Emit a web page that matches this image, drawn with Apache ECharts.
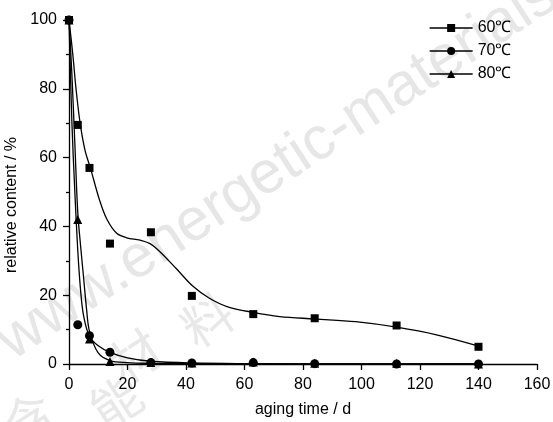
<!DOCTYPE html>
<html>
<head>
<meta charset="utf-8">
<script src="https://cdn.jsdelivr.net/npm/echarts@6/dist/echarts.min.js"></script>
<style>
  html, body { margin: 0; padding: 0; background: #fff; }
  #chart { width: 553px; height: 422px; }
</style>
</head>
<body>
<div id="chart"></div>
<script>
// Measured points (aging time in days)
const ptDays = [0, 3, 7, 14, 28, 42, 63, 84, 112, 140];
const pts60 = [100, 69.5, 57, 35, 38.3, 19.8, 14.5, 13.3, 11.2, 5.0];
const pts70 = [100, 11.4, 8.2, 3.4, 0.4, 0.3, 0.4, 0.1, 0, 0];
const pts80 = [100, 42, 7.3, 0.7, 0.4, 0.3, 0.6, 0.2, 0.2, 0];

// Fitted curves
const fitDays60 = [0, 1.3, 2.4, 3.8, 5.5, 7.3, 10.5, 13, 16.3, 19.7, 24.3, 27.7, 31, 36.8, 42.5, 48, 54, 63, 72, 84, 98, 112, 126, 140];
const fit60 = [100, 90, 80, 70, 62, 57, 47.5, 42, 38, 36.7, 36, 35, 32.7, 27.6, 22.5, 19.1, 16.7, 15, 13.8, 13.1, 12.3, 10.7, 8.4, 5.2];
const fitDays70 = [0, 1, 2, 3, 4, 5, 7, 10, 14, 20, 28, 42, 63, 84, 112, 140];
const fit70 = [100, 70, 50, 33, 21, 14, 8, 5.3, 3.4, 1.8, 0.8, 0.3, 0.1, 0, 0, 0];
const fitDays80 = [0, 1, 2, 3, 4, 5, 6, 7, 10, 14, 20, 28, 42, 63, 84, 112, 140];
const fit80 = [100, 84, 64, 44, 34, 25, 16, 9.5, 3.2, 1.0, 0.4, 0.2, 0.1, 0.1, 0, 0, 0];

const names = ['60℃', '70℃', '80℃'];
const symbols = ['rect', 'circle', 'triangle'];
const symbolSizes = [8, 9, 9];

const font = "'Liberation Sans', Arial, sans-serif";

function pairs(xs, ys) {
  return xs.map((x, i) => [x, ys[i]]);
}

const chart = echarts.init(document.getElementById('chart'));

const fits = [pairs(fitDays60, fit60), pairs(fitDays70, fit70), pairs(fitDays80, fit80)];
const points = [pairs(ptDays, pts60), pairs(ptDays, pts70), pairs(ptDays, pts80)];

const series = [];
names.forEach((name, i) => {
  // fitted line, carries the legend entry
  series.push({
    name: name,
    type: 'line',
    data: fits[i],
    smooth: 0.35,
    symbol: symbols[i],
    showSymbol: false,
    lineStyle: { color: '#000', width: 1.3 },
    itemStyle: { color: '#000' },
    z: 2
  });
  // measured points
  series.push({
    name: name + ' data',
    type: 'scatter',
    data: points[i],
    symbol: symbols[i],
    symbolSize: symbolSizes[i],
    itemStyle: { color: '#000', opacity: 1 },
    z: 3
  });
});

// watermark
const wmChars = [['含', 28, 418], ['能', 116, 402], ['材', 135, 356], ['料', 207, 320]];

chart.setOption({
  animation: false,
  textStyle: { fontFamily: font },
  graphic: [
    {
      type: 'text',
      x: 20, y: 372,
      rotation: 0.576,
      z: -10,
      style: { text: 'www.energetic-materials', fill: '#e6e6e6', font: "60px 'Liberation Sans', sans-serif", textVerticalAlign: 'bottom' }
    }
  ].concat(wmChars.map(c => ({
    type: 'text',
    x: c[1], y: c[2],
    rotation: 0.576,
    z: -10,
    style: { text: c[0], fill: '#e8e8e8', font: "50px 'Noto Sans CJK SC', sans-serif", textAlign: 'center', textVerticalAlign: 'middle' }
  }))),
  grid: { left: 69, right: 16, top: 20, bottom: 58, outerBoundsMode: 'none', containLabel: false },
  legend: {
    data: names,
    orient: 'vertical',
    left: 429,
    top: 19,
    padding: 0,
    itemWidth: 43,
    itemHeight: 10,
    itemGap: 5,
    textStyle: { fontFamily: font, fontSize: 16, lineHeight: 18, color: '#000' },
    lineStyle: { color: '#000', width: 1.3 }
  },
  xAxis: {
    type: 'value',
    min: 0,
    max: 160,
    interval: 20,
    name: 'aging time / d',
    nameLocation: 'middle',
    nameGap: 38,
    nameTextStyle: { fontFamily: font, fontSize: 16, color: '#000' },
    axisLine: { show: true, lineStyle: { color: '#000', width: 1.3 } },
    axisTick: { show: true, inside: false, length: 6, lineStyle: { color: '#000', width: 1.3 } },
    axisLabel: { fontFamily: font, fontSize: 16, color: '#000', margin: 13 },
    splitLine: { show: false }
  },
  yAxis: {
    type: 'value',
    min: 0,
    max: 100,
    interval: 20,
    name: 'relative content / %',
    nameLocation: 'middle',
    nameGap: 46,
    nameTextStyle: { fontFamily: font, fontSize: 16, color: '#000', padding: [0, 26, 0, 0] },
    axisLine: { show: true, lineStyle: { color: '#000', width: 1.3 } },
    axisTick: { show: true, inside: false, length: 6, lineStyle: { color: '#000', width: 1.3 } },
    minorTick: { show: true, splitNumber: 2, length: 3, lineStyle: { color: '#000', width: 1.3 } },
    axisLabel: { fontFamily: font, fontSize: 16, color: '#000', margin: 12 },
    splitLine: { show: false }
  },
  series: series
});
</script>
</body>
</html>
